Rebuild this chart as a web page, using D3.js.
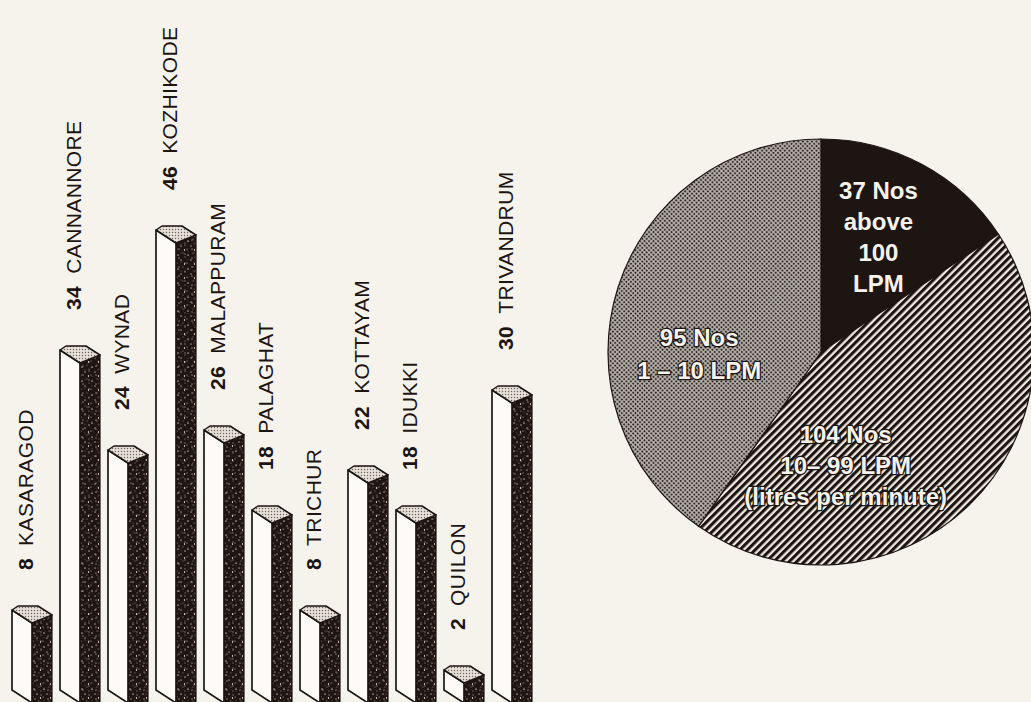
<!DOCTYPE html>
<html>
<head>
<meta charset="utf-8">
<script src="https://cdn.jsdelivr.net/npm/d3@7"></script>
<style>
  html, body { margin: 0; padding: 0; background: #f6f3ec; }
  svg { display: block; }
  text { font-family: "Liberation Sans", Arial, sans-serif; }
</style>
</head>
<body>
<div id="chart"></div>
<script>
// districts of Kerala and number of wells in each
const districts = ["KASARAGOD", "CANNANNORE", "WYNAD", "KOZHIKODE", "MALAPPURAM", "PALAGHAT",
                   "TRICHUR", "KOTTAYAM", "IDUKKI", "QUILON", "TRIVANDRUM"];
const counts = [8, 34, 24, 46, 26, 18, 8, 22, 18, 2, 30];

// pie: wells by yield, clockwise from the top
const flowCounts = [37, 104, 95];
const flowLabels = [
    ["37 Nos", "above", "100", "LPM"],
    ["104 Nos", "10\u2013 99 LPM", "(litres per minute)"],
    ["95 Nos", "1 \u2013 10 LPM"]
];

var width = 1031,
    height = 702;

var ink = "#1d1512";

var svg = d3.select("#chart")
    .append("svg")
    .attr("width", width)
    .attr("height", height);

// ---------- patterns ----------
var defs = svg.append("defs");

// speckled dark side of the bars (two tiles of different size so it looks less regular)
function speckPattern(id, w, h, bg, specks) {
    var p = defs.append("pattern")
        .attr("id", id)
        .attr("patternUnits", "userSpaceOnUse")
        .attr("width", w)
        .attr("height", h);
    if (bg) p.append("rect").attr("width", w).attr("height", h).attr("fill", bg);
    specks.forEach(function (s) {
        p.append("ellipse")
            .attr("cx", s[0]).attr("cy", s[1])
            .attr("rx", s[2]).attr("ry", s[3])
            .attr("fill", "#ddd1c3");
    });
}
speckPattern("speckle", 10, 14, "#1f1613",
    [[2, 3, 1.0, 0.5], [7, 1, 0.5, 0.4], [5, 8, 1.1, 0.4], [1, 11, 0.5, 0.5],
     [8.5, 12, 0.6, 0.9], [9, 5, 0.4, 0.5]]);
speckPattern("speckle2", 13, 9, null,
    [[3, 2, 0.4, 0.7], [10, 6, 0.9, 0.4], [6, 7.5, 0.3, 0.3], [12, 1, 0.5, 0.3]]);

// fine dots on the bar tops
var topDots = defs.append("pattern")
    .attr("id", "topDots")
    .attr("patternUnits", "userSpaceOnUse")
    .attr("width", 3)
    .attr("height", 3);
topDots.append("rect").attr("width", 3).attr("height", 3).attr("fill", "#e4dfd7");
topDots.append("circle").attr("cx", 1.5).attr("cy", 1.5).attr("r", 0.7).attr("fill", "#6a625c");

// halftone grey for the 1-10 LPM slice
var tone = defs.append("pattern")
    .attr("id", "halftone")
    .attr("patternUnits", "userSpaceOnUse")
    .attr("width", 3.2)
    .attr("height", 3.2)
    .attr("patternTransform", "rotate(45)");
tone.append("rect").attr("width", 3.2).attr("height", 3.2).attr("fill", "#b3aea8");
tone.append("circle").attr("cx", 1.6).attr("cy", 1.6).attr("r", 1.05).attr("fill", "#2e2724");

// diagonal hatching for the 10-99 LPM slice
var hatch = defs.append("pattern")
    .attr("id", "hatch")
    .attr("patternUnits", "userSpaceOnUse")
    .attr("width", 5.4)
    .attr("height", 10)
    .attr("patternTransform", "rotate(45)");
hatch.append("rect").attr("width", 5.4).attr("height", 10).attr("fill", "#efeae2");
hatch.append("rect").attr("width", 3.1).attr("height", 10).attr("fill", ink);

// ---------- 3D bars ----------
var x = d3.scaleBand()
    .domain(districts)
    .range([12, 532])
    .paddingInner(8 / 48);

var y = d3.scaleLinear()
    .domain([0, 46])
    .range([690, 230]);

var face = x.bandwidth() / 2,   // width of white front face and dark side
    drop = 13,                  // front top edge slants down to the right
    rise = 8,                   // side top edge rises back up
    bottom = height + 10;

var bars = svg.append("g")
    .selectAll("g")
    .data(districts)
    .enter()
    .append("g")
    .attr("transform", function (d) { return "translate(" + x(d) + ",0)"; });

function sidePath(d, i) {
    var t = y(counts[i]);
    return "M" + face + "," + (t + drop) +
           "L" + (2 * face) + "," + (t + drop - rise) +
           "L" + (2 * face) + "," + bottom +
           "L" + face + "," + bottom + "Z";
}

// dark side face
bars.append("path")
    .attr("d", sidePath)
    .attr("fill", "url(#speckle)");
bars.append("path")
    .attr("d", sidePath)
    .attr("fill", "url(#speckle2)")
    .attr("stroke", ink)
    .attr("stroke-width", 1.2);

// white front face
bars.append("path")
    .attr("d", function (d, i) {
        var t = y(counts[i]), b = y(0);
        return "M0," + t +
               "L" + face + "," + (t + drop) +
               "L" + face + "," + (b + drop) +
               "L0," + b + "Z";
    })
    .attr("fill", "#fdfbf7")
    .attr("stroke", ink)
    .attr("stroke-width", 1.7)
    .attr("stroke-linejoin", "round");

// dotted top
bars.append("path")
    .attr("d", function (d, i) {
        var t = y(counts[i]);
        return "M0," + t +
               "L6," + (t - 4) +
               "L" + (face + 6) + "," + (t - 4) +
               "L" + (2 * face) + "," + (t + drop - rise) +
               "L" + face + "," + (t + drop) + "Z";
    })
    .attr("fill", "url(#topDots)")
    .attr("stroke", ink)
    .attr("stroke-width", 1.5)
    .attr("stroke-linejoin", "round");

// rotated labels above each bar
var labelGap = 40;
var labels = svg.append("g")
    .selectAll("text")
    .data(districts)
    .enter()
    .append("text")
    .attr("transform", function (d, i) {
        return "translate(" + (x(d) + 14) + "," + (y(counts[i]) - labelGap) + ") rotate(-90)";
    })
    .attr("dy", "0.35em")
    .attr("font-size", 21)
    .attr("letter-spacing", 0.4)
    .attr("fill", ink);

labels.append("tspan")
    .attr("font-weight", "bold")
    .text(function (d, i) { return counts[i]; });

labels.append("tspan")
    .attr("dx", 12)
    .text(function (d) { return d; });

// ---------- pie ----------
var cx = 821, cy = 352, r = 213;

var pie = d3.pie().sort(null).value(function (d) { return d; });
var arc = d3.arc().innerRadius(0).outerRadius(r);
var labelArc = d3.arc().innerRadius(r * 0.59).outerRadius(r * 0.59);

var sliceFill = [ink, "url(#hatch)", "url(#halftone)"];
// hand placement of the text blocks, as in the original
var labelShift = [[-2, -4], [-63, 24], [-2, 40]];
var lineHeight = [31, 31, 33];

var gPie = svg.append("g")
    .attr("transform", "translate(" + cx + "," + cy + ")");

var slices = pie(flowCounts);

gPie.selectAll("path")
    .data(slices)
    .enter()
    .append("path")
    .attr("d", arc)
    .attr("fill", function (d, i) { return sliceFill[i]; })
    .attr("stroke", ink)
    .attr("stroke-width", 1.2);

slices.forEach(function (d, i) {
    var c = labelArc.centroid(d);
    var lx = c[0] + labelShift[i][0],
        ly = c[1] + labelShift[i][1];
    var lines = flowLabels[i];
    var t = gPie.append("text")
        .attr("text-anchor", "middle")
        .attr("font-size", 24)
        .attr("font-weight", "bold")
        .attr("fill", "#f6f2ec");
    if (i > 0) {
        t.attr("stroke", ink).attr("stroke-width", 2.5).attr("paint-order", "stroke");
    }
    lines.forEach(function (line, j) {
        t.append("tspan")
            .attr("x", lx)
            .attr("y", ly + (j - (lines.length - 1) / 2) * lineHeight[i])
            .attr("dy", "0.35em")
            .text(line);
    });
});
</script>
</body>
</html>
